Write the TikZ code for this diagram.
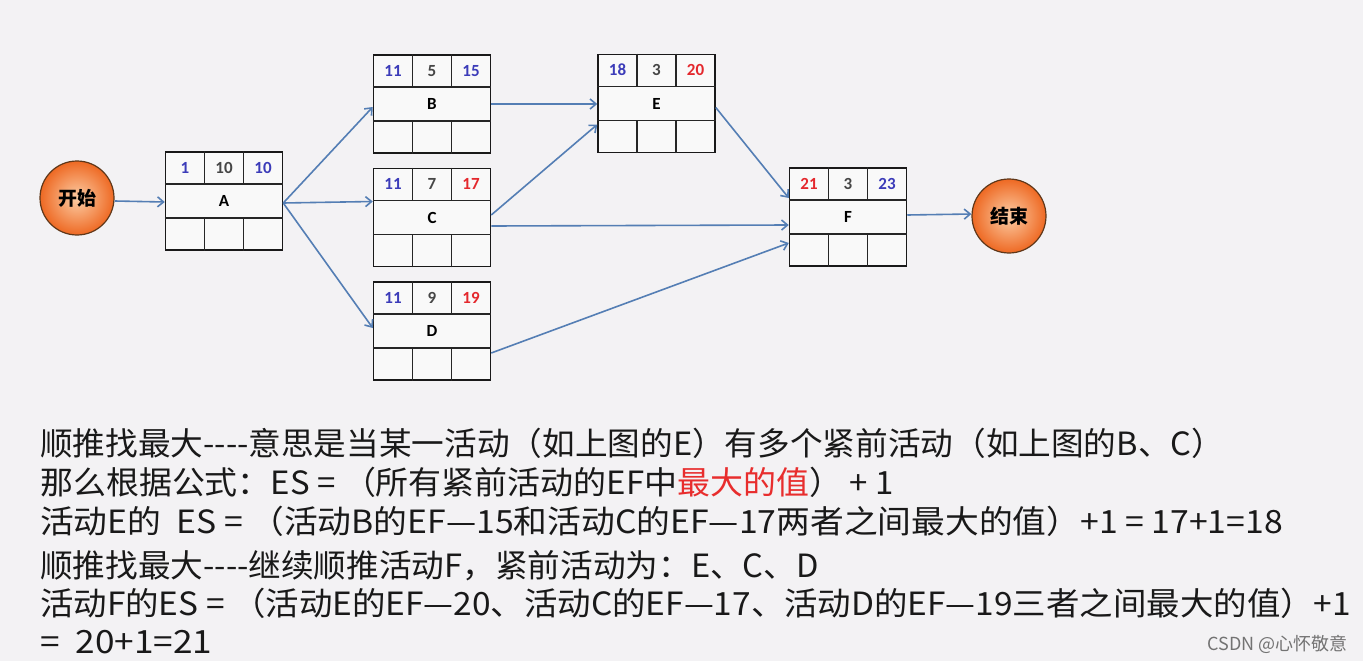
\documentclass[tikz,border=0pt]{standalone}
\usepackage{fontspec}
\setmainfont{Carlito}
\newfontfamily\cjk{Noto Sans CJK SC}
\usetikzlibrary{arrows.meta,calc}
\definecolor{bg}{RGB}{243,242,244}
\definecolor{boxfill}{RGB}{249,249,249}
\definecolor{arrc}{RGB}{84,126,180}
\definecolor{numblue}{RGB}{60,60,185}
\definecolor{numred}{RGB}{228,40,45}
\definecolor{numgray}{RGB}{70,70,70}
\definecolor{txtred}{RGB}{232,45,45}
\definecolor{txt}{RGB}{25,25,25}
\tikzset{
  abox/.style={draw=black!90, line width=1.5pt, fill=boxfill, minimum width=117pt, minimum height=98pt, inner sep=0pt},
  agrid/.style={draw=black!85, line width=1.2pt},
  num/.style={font=\fontsize{17}{18}\selectfont\bfseries, inner sep=0pt},
  lab/.style={font=\fontsize{17}{18}\selectfont\bfseries, text=black, inner sep=0pt},
  arr/.style={draw=arrc, line width=1.6pt, -{Straight Barb[length=6pt,width=10pt,line width=1.6pt]}},
  term/.style={circle, minimum size=74pt, inner sep=0pt, draw={rgb,255:red,95;green,55;blue,25}, line width=1.2pt,
    inner color={rgb,255:red,252;green,205;blue,165}, outer color={rgb,255:red,238;green,105;blue,35},
    font=\cjk\fontsize{19}{20}\selectfont\bfseries},
  line/.style={anchor=base west, inner sep=0pt, text=txt, font=\cjk\fontsize{32}{34}\selectfont}
}
\newcommand\actbox[9]{%
  \node[abox] (#1) at (#2,#3) {};
  \draw[agrid] ([yshift=-32.67pt]#1.north west) -- ([yshift=-32.67pt]#1.north east);
  \draw[agrid] ([yshift=32.67pt]#1.south west) -- ([yshift=32.67pt]#1.south east);
  \draw[agrid] ([xshift=-19.5pt]#1.north) -- ++(0,-32.67);
  \draw[agrid] ([xshift=19.5pt]#1.north) -- ++(0,-32.67);
  \draw[agrid] ([xshift=-19.5pt]#1.south) -- ++(0,32.67);
  \draw[agrid] ([xshift=19.5pt]#1.south) -- ++(0,32.67);
  \node[num, text=#5] (#1-es) at ([xshift=-39pt,yshift=-16.33pt]#1.north) {#4};
  \node[num, text=numgray] (#1-du) at ([yshift=-16.33pt]#1.north) {#6};
  \node[num, text=#8] (#1-ef) at ([xshift=39pt,yshift=-16.33pt]#1.north) {#7};
  \node[lab] (#1-l) at (#1) {#9};
}
\begin{document}
\begin{tikzpicture}[x=1pt,y=1pt]
\fill[bg] (0,0) rectangle (1363,-661);
\useasboundingbox (0,0) rectangle (1363,-661);

\actbox{A}{224}{-201}{1}{numblue}{10}{10}{numblue}{A}
\actbox{B}{432}{-104}{11}{numblue}{5}{15}{numblue}{B}
\actbox{C}{432}{-217.5}{11}{numblue}{7}{17}{numred}{C}
\actbox{D}{432}{-331}{11}{numblue}{9}{19}{numred}{D}
\actbox{E}{656.5}{-103.5}{18}{numblue}{3}{20}{numred}{E}
\actbox{F}{848}{-217}{21}{numred}{3}{23}{numblue}{F}

\node[term] (start) at (77,-198) {开始};
\node[term] (end) at (1009,-216) {结束};

\draw[arr] ([yshift=-3pt]start.east) -- ([yshift=-1pt]A.west);
\draw[arr] ([yshift=-2pt]A.east) -- ([yshift=-3pt]B.west);
\draw[arr] ([yshift=-2pt]A.east) -- ([yshift=16pt]C.west);
\draw[arr] ([yshift=-2pt]A.east) -- ([yshift=3pt]D.west);
\draw[arr] (B.east) -- ([yshift=-0.5pt]E.west);
\draw[arr] ([yshift=2.5pt]C.east) -- ([yshift=-21pt]E.west);
\draw[arr] ([yshift=-8.5pt]C.east) -- ([yshift=-8pt]F.west);
\draw[arr] ([yshift=-4pt]E.east) -- ([yshift=19pt]F.west);
\draw[arr] ([yshift=-22pt]D.east) -- ([yshift=-26pt]F.west);
\draw[arr] ([yshift=2pt]F.east) -- ([yshift=2pt]end.west);

\node[line] (t1) at (40,-455) {\scalebox{1.02}[1]{顺推找最大----意思是当某一活动（如上图的E）有多个紧前活动（如上图的B、C）}};
\node[line] (t2) at (40,-494) {\scalebox{1.03}[1]{那么根据公式：ES = （所有紧前活动的EF中\textcolor{txtred}{最大的值}） + 1}};
\node[line] (t3) at (40,-533) {\scalebox{1.055}[1]{活动E的\ \ ES = （活动B的EF—15和活动C的EF—17两者之间最大的值）+1 = 17+1=18}};
\node[line] (t4) at (40,-577) {\scalebox{1.02}[1]{顺推找最大----继续顺推活动F，紧前活动为：E、C、D}};
\node[line] (t5) at (40,-615) {\scalebox{1.045}[1]{活动F的ES = （活动E的EF—20、活动C的EF—17、活动D的EF—19三者之间最大的值）+1}};
\node[line] (t6) at (40,-653) {\scalebox{1.1}[1]{=\hspace{0.45em}20+1=21}};
\node[anchor=base east, inner sep=0pt, text=black!55, font=\cjk\fontsize{18}{20}\selectfont] (wm) at (1348,-650) {CSDN @心怀敬意};
\end{tikzpicture}
\end{document}
